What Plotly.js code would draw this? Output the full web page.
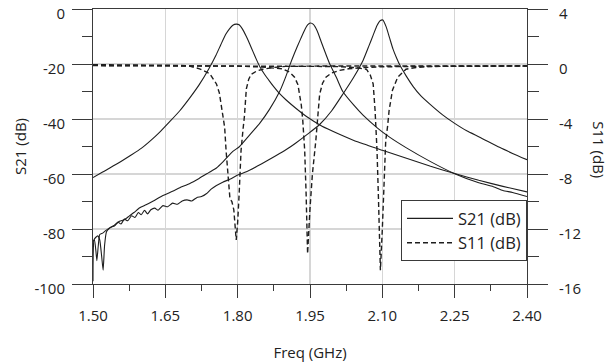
<!DOCTYPE html>
<html>
<head>
<meta charset="utf-8">
<script src="https://cdn.plot.ly/plotly-3.0.1.min.js"></script>
<style>html,body{margin:0;padding:0;background:#fff;}</style>
</head>
<body>
<div id="chart" style="width:608px;height:362px;"></div>
<script>
// ---- S21 (dB), left axis ----
const freqS21a = [1.500,1.520,1.550,1.580,1.600,1.620,1.640,1.660,1.680,1.700,1.720,1.740,1.755,1.765,1.775,1.783,1.790,1.797,1.803,1.810,1.818,1.825,1.832,1.839,1.846,1.856,1.866,1.876,1.887,1.900,1.920,1.942,1.975,2.011,2.050,2.100,2.150,2.200,2.250,2.300,2.350,2.400];
const s21a = [-61.3,-59.3,-56.3,-53.0,-50.7,-47.8,-44.5,-40.8,-37.0,-32.5,-27.6,-21.8,-16.8,-13.0,-9.3,-7.2,-5.9,-5.5,-5.7,-7.3,-10.0,-12.7,-15.6,-18.4,-21.0,-23.8,-26.2,-28.5,-30.8,-33.0,-36.0,-39.0,-42.6,-45.5,-48.4,-51.4,-54.3,-57.2,-59.8,-62.3,-64.5,-66.5];

const freqS21b = [1.500,1.502,1.506,1.510,1.514,1.518,1.521,1.524,1.528,1.534,1.545,1.555,1.565,1.575,1.585,1.597,1.610,1.625,1.645,1.665,1.680,1.700,1.720,1.740,1.756,1.770,1.790,1.804,1.825,1.846,1.866,1.887,1.900,1.908,1.918,1.929,1.938,1.945,1.951,1.957,1.965,1.973,1.982,1.991,2.005,2.018,2.040,2.060,2.090,2.115,2.150,2.200,2.250,2.300,2.330,2.350,2.370,2.400];
const s21b = [-99.0,-84.0,-83.0,-82.5,-84.0,-90.0,-95.0,-86.0,-81.0,-79.8,-78.5,-77.2,-76.6,-75.3,-74.0,-72.3,-71.2,-69.8,-67.8,-66.3,-65.0,-63.5,-61.6,-59.5,-57.8,-55.5,-51.8,-50.0,-45.8,-41.5,-36.5,-30.0,-24.5,-20.5,-16.0,-11.5,-8.0,-5.8,-5.1,-5.6,-8.0,-11.8,-16.0,-20.0,-25.0,-30.0,-34.8,-38.6,-43.3,-46.6,-50.5,-55.5,-59.9,-63.2,-64.6,-66.0,-66.7,-68.2];

const freqS21c = [1.500,1.503,1.506,1.508,1.511,1.514,1.520,1.527,1.535,1.545,1.552,1.558,1.565,1.572,1.580,1.587,1.594,1.600,1.607,1.613,1.620,1.628,1.635,1.645,1.655,1.665,1.675,1.685,1.695,1.705,1.715,1.725,1.735,1.745,1.756,1.769,1.785,1.800,1.818,1.840,1.860,1.880,1.900,1.920,1.945,1.970,1.995,2.018,2.040,2.060,2.072,2.081,2.089,2.096,2.101,2.108,2.115,2.122,2.130,2.136,2.150,2.164,2.180,2.198,2.225,2.250,2.275,2.302,2.343,2.370,2.400];
const s21c = [-84.5,-84.0,-88.0,-91.5,-86.0,-82.0,-81.5,-80.5,-79.5,-78.8,-77.5,-78.2,-76.4,-77.0,-75.2,-75.8,-74.0,-74.8,-73.2,-74.5,-73.0,-72.4,-73.2,-71.5,-71.9,-70.6,-71.0,-69.8,-69.4,-69.8,-68.6,-68.2,-67.2,-65.5,-64.2,-63.0,-61.8,-60.4,-59.2,-57.2,-55.3,-53.3,-51.2,-48.8,-45.5,-42.0,-37.0,-31.0,-25.0,-18.7,-13.5,-9.5,-6.0,-4.2,-4.0,-6.5,-10.5,-14.5,-18.0,-20.3,-24.5,-28.2,-31.6,-34.5,-38.5,-41.6,-44.3,-46.6,-50.3,-52.5,-54.8];

// ---- S11 (dB), right axis ----
const freqS11a = [1.500,1.600,1.680,1.700,1.721,1.742,1.756,1.762,1.766,1.770,1.773,1.776,1.780,1.784,1.788,1.792,1.797,1.800,1.803,1.807,1.811,1.814,1.818,1.823,1.828,1.840,1.852,1.875,1.900,2.000,2.200,2.400];
const s11a = [-0.05,-0.06,-0.10,-0.15,-0.35,-0.70,-1.45,-2.1,-2.9,-3.8,-4.6,-6.3,-8.4,-9.8,-10.0,-10.6,-12.8,-11.5,-9.5,-6.3,-4.8,-3.8,-1.8,-1.1,-0.75,-0.50,-0.38,-0.25,-0.17,-0.14,-0.14,-0.15];

const freqS11b = [1.500,1.700,1.800,1.850,1.893,1.908,1.918,1.925,1.929,1.932,1.935,1.939,1.942,1.945,1.950,1.955,1.962,1.966,1.970,1.976,1.983,1.995,2.011,2.030,2.052,2.100,2.250,2.400];
const s11b = [-0.10,-0.12,-0.15,-0.22,-0.35,-0.60,-0.96,-1.5,-2.2,-3.0,-4.1,-6.3,-9.5,-13.8,-10.5,-8.0,-5.6,-3.6,-2.2,-1.4,-0.96,-0.65,-0.47,-0.35,-0.28,-0.20,-0.15,-0.13];

const freqS11c = [1.500,1.800,1.950,2.000,2.040,2.067,2.075,2.081,2.085,2.089,2.092,2.096,2.100,2.104,2.107,2.111,2.114,2.121,2.132,2.149,2.170,2.198,2.300,2.400];
const s11c = [-0.12,-0.13,-0.15,-0.18,-0.25,-0.38,-0.80,-1.45,-3.4,-6.3,-9.8,-15.0,-12.0,-8.5,-5.6,-4.5,-3.4,-1.9,-0.96,-0.38,-0.25,-0.18,-0.15,-0.14];

const xTicks = [1.50,1.65,1.80,1.95,2.10,2.25,2.40];
const yTicks = [0,-20,-40,-60,-80,-100];
const y2Ticks = [4,0,-4,-8,-12,-16];

const INK = '#1e1e1e';
const AX = '#3a3a3a';
const FONT = 'Open Sans, Noto Sans, sans-serif';

function s21(x, y, show) {
  return {x:x, y:y, type:'scatter', mode:'lines', name:'S21 (dB)', legendgroup:'g1',
    showlegend:show, line:{color:INK, width:1.1, shape:'spline', smoothing:0.5}, yaxis:'y'};
}
function s11(x, y, show) {
  return {x:x, y:y, type:'scatter', mode:'lines', name:'S11 (dB)', legendgroup:'g2',
    showlegend:show, line:{color:INK, width:1.4, dash:'5px,3px'}, yaxis:'y2'};
}

const data = [
  s21(freqS21a, s21a, true),
  s21(freqS21b, s21b, false),
  s21(freqS21c, s21c, false),
  s11(freqS11a, s11a, true),
  s11(freqS11b, s11b, false),
  s11(freqS11c, s11c, false)
];

const layout = {
  width:608, height:362,
  margin:{l:93, r:81, t:9, b:78, pad:0},
  paper_bgcolor:'#ffffff', plot_bgcolor:'#ffffff',
  font:{family:FONT, size:15, color:'#222'},
  showlegend:true,
  legend:{x:1, xanchor:'right', y:0.305, yanchor:'top', bordercolor:AX, borderwidth:1,
    bgcolor:'#ffffff', font:{family:FONT, size:16.5, color:'#222'},
    traceorder:'grouped', tracegroupgap:0, itemwidth:46},
  xaxis:{range:[1.5,2.4], tickmode:'array', tickvals:xTicks, ticktext:xTicks.map(v=>v.toFixed(2)),
    ticks:'outside', ticklen:13, tickcolor:AX, tickwidth:1, ticklabelstandoff:5,
    showgrid:true, gridcolor:'#d6d6d6', gridwidth:1.5,
    showline:true, linecolor:AX, linewidth:1, mirror:true, zeroline:false,
    minor:{tick0:1.5, dtick:0.075, ticks:'outside', ticklen:6, tickcolor:AX, showgrid:false},
    title:{text:'Freq (GHz)', font:{family:FONT, size:15}, standoff:24}},
  yaxis:{range:[-100,0], tickmode:'array', tickvals:yTicks, ticktext:yTicks.map(v=>String(v)),
    ticks:'outside', ticklen:20, tickcolor:AX, ticklabeloverflow:'allow', ticklabelstandoff:4, ticklabelshift:5,
    showgrid:true, gridcolor:'#d6d6d6', gridwidth:1.5,
    showline:true, linecolor:AX, linewidth:1, mirror:true, zeroline:false,
    minor:{tick0:0, dtick:10, ticks:'outside', ticklen:10, tickcolor:AX, showgrid:false},
    title:{text:'S21 (dB)', font:{family:FONT, size:15}, standoff:4}},
  yaxis2:{range:[-16,4], tickmode:'array', tickvals:y2Ticks, ticktext:y2Ticks.map(v=>String(v)),
    overlaying:'y', side:'right', anchor:'x',
    ticks:'outside', ticklen:20, tickcolor:AX, showgrid:false, ticklabeloverflow:'allow', ticklabelstandoff:8, ticklabelshift:5,
    showline:true, linecolor:AX, linewidth:1, zeroline:false,
    minor:{tick0:0, dtick:2, ticks:'outside', ticklen:11, tickcolor:AX, showgrid:false}},
  annotations:[{text:'S11 (dB)', xref:'paper', yref:'paper', x:1, y:0.49, xshift:84,
    textangle:90, showarrow:false, font:{family:FONT, size:15, color:'#222'}}]
};

Plotly.newPlot('chart', data, layout, {displayModeBar:false, staticPlot:true});
</script>
</body>
</html>
